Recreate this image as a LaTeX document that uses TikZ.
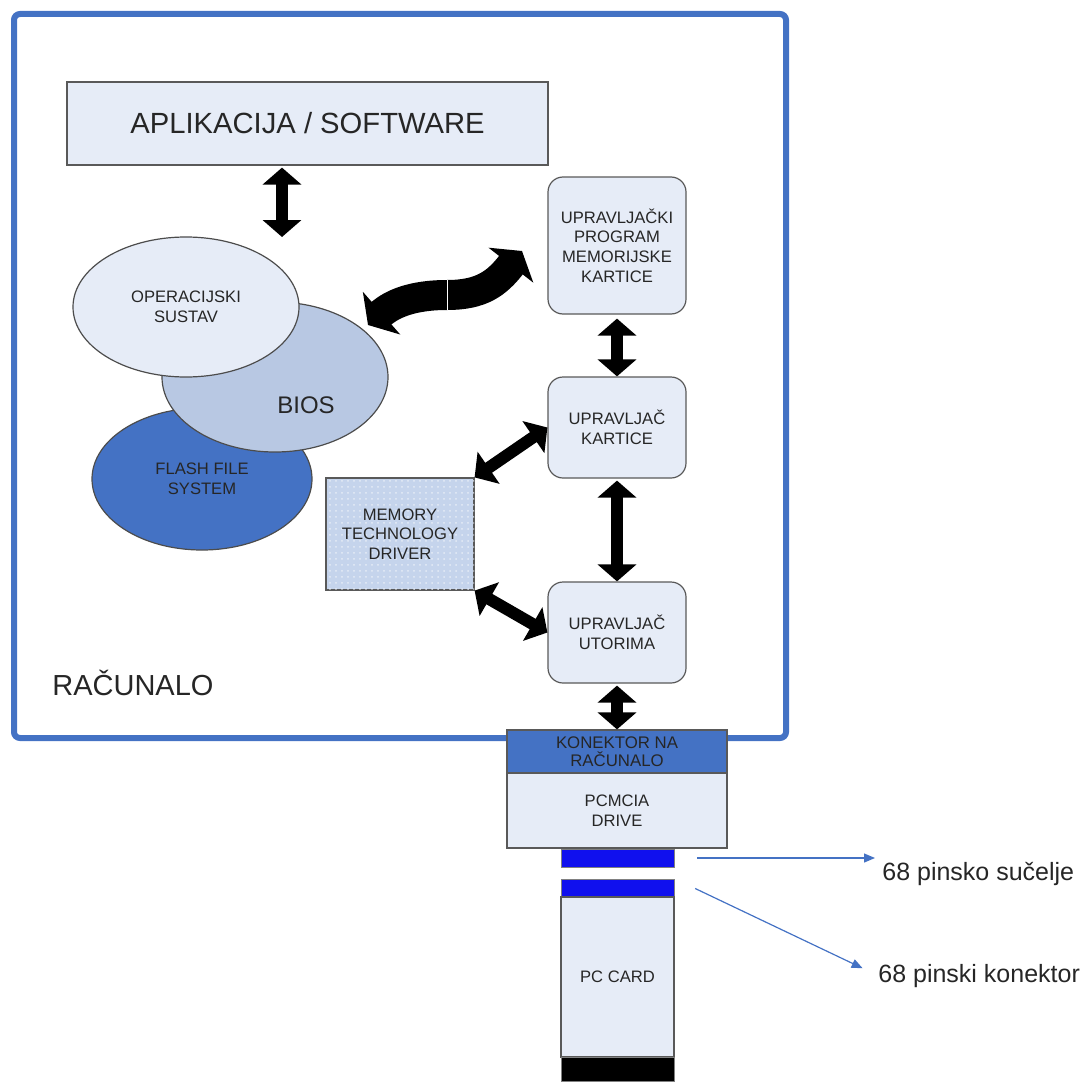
\documentclass[tikz,border=0pt]{standalone}
\usepackage{fontspec}
\setmainfont{Liberation Sans}
\usetikzlibrary{arrows.meta, shapes.geometric, patterns}
\definecolor{boxfill}{HTML}{E6ECF7}
\definecolor{biosfill}{HTML}{B8C8E3}
\definecolor{frameblue}{HTML}{4472C4}
\definecolor{barblue}{HTML}{1010EE}
\definecolor{mtdfill}{HTML}{C5D4EC}
\definecolor{txt}{HTML}{262626}
\begin{document}
\begin{tikzpicture}[x=0.5pt, y=-0.5pt, text=txt,
  box/.style={draw=black!65, line width=0.6pt, fill=boxfill, inner sep=0pt, align=center, font=\fontsize{8.3}{9.8}\selectfont},
  rbox/.style={box, rounded corners=7.5pt, minimum width=69pt},
  blob/.style={ellipse, draw=black!70, line width=0.6pt, inner sep=0pt, align=center, font=\fontsize{8.3}{9.8}\selectfont},
  bar/.style={draw=black!50, line width=0.4pt, inner sep=0pt, minimum width=56.5pt},
  dbl/.style={line width=6pt, {Triangle[width=19pt,length=8.5pt]}-{Triangle[width=19pt,length=8.5pt]}},
  wave/.style={line width=15pt, -{Triangle[width=28pt,length=9pt]}},
  pin/.style={draw=frameblue, line width=0.6pt, -{Triangle[width=4.5pt,length=5.5pt]}}]
\useasboundingbox (0,0) rectangle (1086,1081);
\draw[frameblue, line width=3pt, rounded corners=3pt] (14,14) rectangle (786,738);
\node[box, minimum width=240.5pt, minimum height=41.5pt, font=\fontsize{14.6}{16}\selectfont](app) at (307.5,123.5){APLIKACIJA / SOFTWARE};
\node[blob, fill=frameblue, minimum width=110pt, minimum height=71pt](fls) at (202,479){FLASH FILE\\SYSTEM};
\node[blob, fill=biosfill, minimum width=113pt, minimum height=75pt](bios) at (275,377){};
\node[font=\fontsize{12}{14}\selectfont](biostxt) at (306,405){BIOS};
\node[blob, fill=boxfill, minimum width=113pt, minimum height=70pt](os) at (186,307){OPERACIJSKI\\SUSTAV};
\node[rbox, minimum height=68.5pt](prog) at (617,245.5){UPRAVLJAČKI\\PROGRAM\\MEMORIJSKE\\KARTICE};
\node[rbox, minimum height=50.5pt](kart) at (617,427.5){UPRAVLJAČ\\KARTICE};
\node[rbox, minimum height=50.5pt](utor) at (617,632.5){UPRAVLJAČ\\UTORIMA};
\node[box, minimum width=74pt, minimum height=56pt, fill=mtdfill, postaction={pattern=dots, pattern color=white!55!mtdfill}](mtd) at (400,534){MEMORY\\TECHNOLOGY\\DRIVER};
\node[anchor=base west, inner sep=0pt, font=\fontsize{14.5}{16}\selectfont](rac) at (52,695){RAČUNALO};
\node[box, fill=frameblue, minimum width=110pt, minimum height=21.5pt, font=\fontsize{8.4}{9}\selectfont](kon) at (617,751.5){KONEKTOR NA\\RAČUNALO};
\node[box, minimum width=110pt, minimum height=37.5pt](pcm) at (617,810.5){PCMCIA\\DRIVE};
\node[bar, fill=barblue, minimum height=9pt](pin1) at (617.5,858){};
\node[bar, fill=barblue, minimum height=9pt](pin2) at (617.5,888){};
\node[box, minimum width=56.5pt, minimum height=80pt](card) at (617.5,977){PC CARD};
\node[bar, fill=black, minimum height=12pt](tail) at (617.5,1069){};
\node[anchor=base west, inner sep=0pt, font=\fontsize{12.5}{14}\selectfont](l1) at (882,880){68 pinsko sučelje};
\node[anchor=base west, inner sep=0pt, font=\fontsize{12.5}{14}\selectfont](l2) at (878,982){68 pinski konektor};
\coordinate (ostop) at (282,237);
\coordinate (wm) at (447,295);
\coordinate (wl) at (368,325);
\coordinate (wr) at (522,251);
\draw[dbl, shorten <=1pt] (app.south -| ostop) -- (ostop);
\draw[wave] (wm) .. controls (412,295) and (392,304) .. (wl);
\draw[wave] (wm) .. controls (482,295) and (497,283) .. (wr);
\draw[white, line width=0.5pt] ([yshift=7.5pt]wm) -- ([yshift=-7.5pt]wm);
\draw[dbl, shorten <=2pt] (prog) -- (kart);
\draw[dbl, shorten <=1pt] (kart) -- (utor);
\draw[dbl, shorten <=1pt] (utor) -- (kon);
\draw[dbl] (mtd.north east) -- (kart.west);
\draw[dbl] (mtd.south east) -- (utor.west);
\draw[pin, shorten <=11.5pt, shorten >=3.5pt] (pin1.east) -- (pin1.east -| l1.west);
\draw[pin, shorten <=11.5pt, shorten >=8.5pt] (pin2.north east) -- (l2.west);
\end{tikzpicture}
\end{document}
